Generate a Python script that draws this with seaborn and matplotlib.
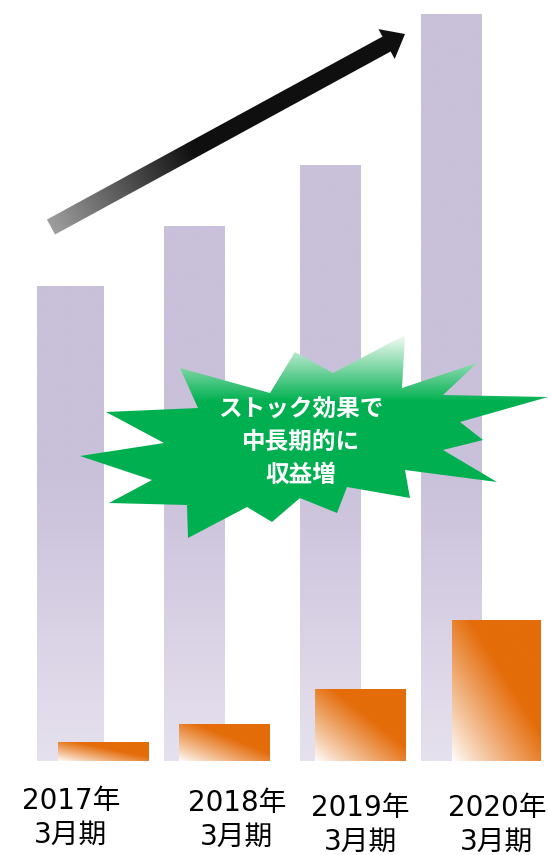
import numpy as np
import pandas as pd
import matplotlib
matplotlib.use('Agg')
import matplotlib.pyplot as plt
from matplotlib.colors import to_rgb
from matplotlib.patches import Polygon
import seaborn as sns

# data (relative heights, no axis in the original)
periods = ['2017年\n3月期', '2018年\n3月期', '2019年\n3月期', '2020年\n3月期']
total = [474, 534, 595, 746]
stock = [19, 36, 71, 140]
burst_text = ['ストック効果で', '中長期的に', '収益増']

# layout in pixels (from the top-left of the 548x855 image)
W, H = 548, 855
base_px = 761
total_left = [37, 164, 300, 421]
total_width = [67, 61, 61, 61]
stock_left = [58, 179, 315, 452]
stock_width = [91, 91, 91, 89]
label_x = [71, 237, 360, 497]
label_y = [801, 803, 808, 808]
line_gap = 34

purple_top = '#C9C0DA'
purple_bottom = '#E6E1EE'
orange = '#E46C0A'
green = '#00B050'


def ydat(y):
    return base_px - y


sns.set_theme(style='white')
plt.rcParams['font.family'] = ['DejaVu Sans', 'Noto Sans CJK JP']

fig = plt.figure(figsize=(W / 100, H / 100), dpi=100)
ax = fig.add_axes([0, 0, 1, 1])
df = pd.DataFrame({'period': periods, 'total': total, 'stock': stock})

n0 = len(ax.patches)
sns.barplot(data=df, x='period', y='total', color=purple_top, saturation=1,
            errorbar=None, ax=ax)
total_bars = ax.patches[n0:]
n1 = len(ax.patches)
sns.barplot(data=df, x='period', y='stock', color=orange, saturation=1,
            errorbar=None, ax=ax)
stock_bars = ax.patches[n1:]

# purple bars: light toward the base
c0, c1 = np.array(to_rgb(purple_top)), np.array(to_rgb(purple_bottom))
for p, left, w in zip(total_bars, total_left, total_width):
    p.set_x(left)
    p.set_width(w)
    h = p.get_height()
    ys = np.linspace(base_px - h, base_px, 200)
    s = np.clip((ys - 470) / (base_px - 470), 0, 1)[:, None, None]
    img = c0 + (c1 - c0) * s
    img = np.repeat(img, 2, axis=1)
    p.set_facecolor('none')
    p.set_edgecolor('none')
    ax.imshow(img, extent=(left, left + w, 0, h), aspect='auto',
              interpolation='bilinear', zorder=1)

# orange bars: white at the lower left corner
co, cw = np.array(to_rgb(orange)), np.ones(3)
for p, left, w in zip(stock_bars, stock_left, stock_width):
    p.set_x(left)
    p.set_width(w)
    h = p.get_height()
    u = np.linspace(0, 1, 120)[None, :]
    v = np.linspace(1, 0, 120)[:, None]
    t = np.clip((u + v) / 2 / 0.6, 0, 1) ** 0.9
    img = cw + (co - cw) * t[:, :, None]
    p.set_facecolor('none')
    p.set_edgecolor('none')
    ax.imshow(img, extent=(left, left + w, 0, h), aspect='auto',
              interpolation='bilinear', zorder=2)

# arrow
tail = np.array([51.0, 227.0])
tip = np.array([405.0, 34.0])
d = (tip - tail) / np.linalg.norm(tip - tail)
nrm = np.array([-d[1], d[0]])
head_len, head_hw, shaft_hw = 21, 17, 8.5
hb = tip - d * head_len
pts = [tail + nrm * shaft_hw, hb + nrm * shaft_hw, hb + nrm * head_hw, tip,
       hb - nrm * head_hw, hb - nrm * shaft_hw, tail - nrm * shaft_hw]
pts = [(x, ydat(y)) for x, y in pts]
arrow = Polygon(pts, closed=True, facecolor='none', edgecolor='none', zorder=3)
ax.add_patch(arrow)
xs = np.linspace(40, 410, 300)
ys = np.linspace(25, 240, 200)
X, Y = np.meshgrid(xs, ys)
L = np.linalg.norm(tip - tail)
s = ((X - tail[0]) * d[0] + (Y - tail[1]) * d[1]) / L
g = 0.62 - 0.56 * np.clip(s / 0.4, 0, 1)
img = np.repeat(g[:, :, None], 3, axis=2)
im = ax.imshow(img, extent=(40, 410, ydat(240), ydat(25)), aspect='auto',
               interpolation='bilinear', zorder=3)
im.set_clip_path(arrow)

# green starburst
burst = [(80, 456), (164, 443), (106, 412), (198, 408), (180, 368), (270, 393),
         (295, 352), (333, 373), (405, 335), (402, 388), (477, 363), (443, 395),
         (548, 397), (460, 422), (483, 440), (443, 450), (497, 482), (405, 470),
         (410, 498), (347, 487), (337, 513), (300, 498), (272, 522), (247, 507),
         (188, 538), (187, 505), (109, 503), (152, 480)]
star = Polygon([(x, ydat(y)) for x, y in burst], closed=True,
               facecolor='none', edgecolor='none', zorder=4)
ax.add_patch(star)
cg = np.array(to_rgb(green))
ys = np.linspace(330, 540, 200)
s = np.clip((ys - 335) / (402 - 335), 0, 1)[:, None, None]
img = np.array([0.97, 0.99, 0.97]) + (cg - np.array([0.97, 0.99, 0.97])) * s
img = np.repeat(img, 2, axis=1)
im = ax.imshow(img, extent=(78, 550, ydat(540), ydat(330)), aspect='auto',
               interpolation='bilinear', zorder=4)
im.set_clip_path(star)

for line, y in zip(burst_text, [410, 442, 475]):
    ax.text(301, ydat(y), line, color='white', fontsize=17, fontweight='bold',
            ha='center', va='center', zorder=5,
            family=['Noto Sans CJK JP'])

# period labels
for lab, x, y in zip(periods, label_x, label_y):
    first, second = lab.split('\n')
    ax.text(x, ydat(y), first, fontsize=20, ha='center', va='center', color='black')
    ax.text(x, ydat(y + line_gap), second, fontsize=20, ha='center', va='center',
            color='black')

ax.set_xlim(0, W)
ax.set_ylim(base_px - H, base_px)
ax.axis('off')
fig.savefig('out.png', dpi=100)
